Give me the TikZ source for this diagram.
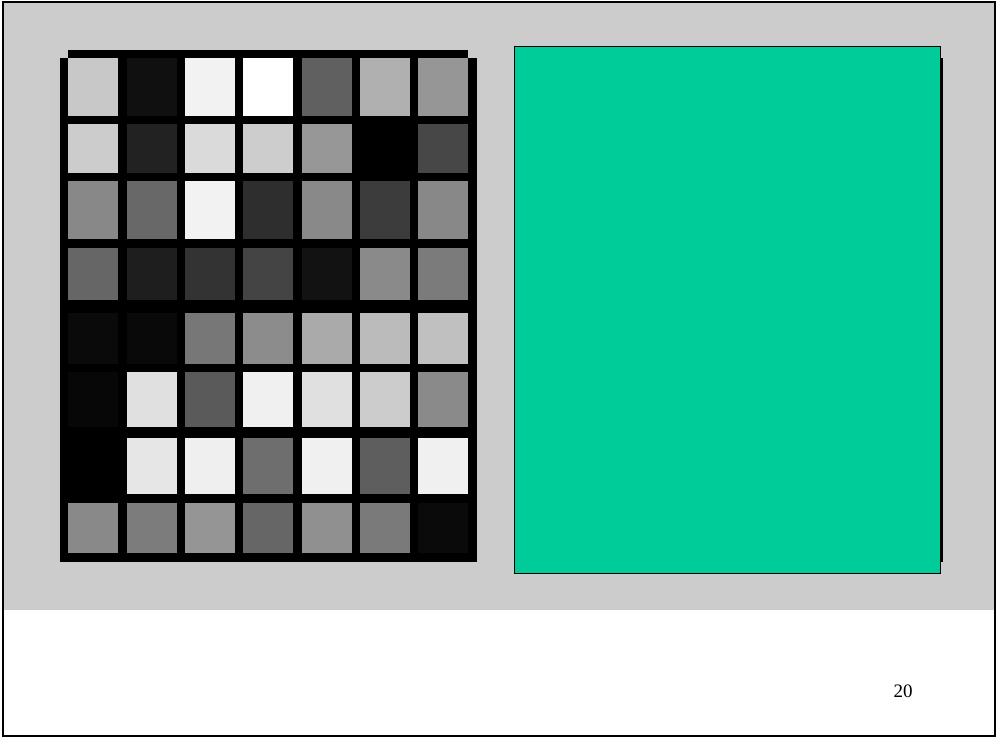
\documentclass[tikz,border=0pt]{standalone}
\usepackage{fontspec}
\setmainfont{Liberation Serif}
\begin{document}
\begin{tikzpicture}[x=1pt, y=-1pt, line join=miter,
	cella/.style={line width=0pt},
	cornice/.style={line width=2pt, black},
	]
	
	\def\cx{68.33}  % bordo sinistro prima colonna
	\def\cy{58.33}  % bordo superiore prima riga
	\def\cw{50.00}  % larghezza cella
	\def\px{58.33}  % passo orizzontale
	
	\useasboundingbox(0,0)rectangle(996,738);
	
	%% ── Sfondo pagina ────────────────────────────────────────────────────────
	\fill[white](0,0)rectangle(996,738);
	\fill[fill={rgb,255:red,204;green,204;blue,204}](3,2.5)rectangle(994.5,610);
	\draw[cornice](3,2.5)rectangle(994.5,736);
	
	%% ── Griglia: fondo nero ──────────────────────────────────────────────────
	\fill[black](60,\cy)rectangle(476.67,561.67);
	\fill[black](\cx,50)rectangle(468.33,\cy);
	
	%% ── Griglia: celle in scala di grigi (riga / y alto / y basso) ───────────
	\foreach \riga/\ya/\yb in {
		{200,16,242,255,96,176,150}/58.33/116,
		{204,34,218,205,151,0,71}/124/173.5,
		{136,104,242,46,137,60,136}/181.5/239.5,
		{102,30,51,68,18,138,123}/248/300,
		{10,9,119,140,170,187,192}/313/363.5,
		{7,224,90,240,224,204,138}/371.5/427,
		{0,230,239,110,240,94,240}/437.5/494,
		{137,124,149,102,144,122,10}/503/553.33}{
		\foreach \v [count=\c from 0] in \riga{
			\fill[cella, fill={rgb,255:red,\v;green,\v;blue,\v}]
			({\cx+\c*\px},\ya)rectangle({\cx+\c*\px+\cw},\yb);}}
	
	%% ── Riquadro verde con ombra ─────────────────────────────────────────────
	\fill[black](940,58.33)rectangle(942.7,561.67);
	\draw[line width=1pt, fill={rgb,255:red,0;green,204;blue,153}](514,46.7)rectangle(940,573.3);
	
	%% ── Numero di pagina ─────────────────────────────────────────────────────
	\node[font=\fontsize{19}{23}\selectfont](numpag)at(903,691.5){20};
	
\end{tikzpicture}
\end{document}
